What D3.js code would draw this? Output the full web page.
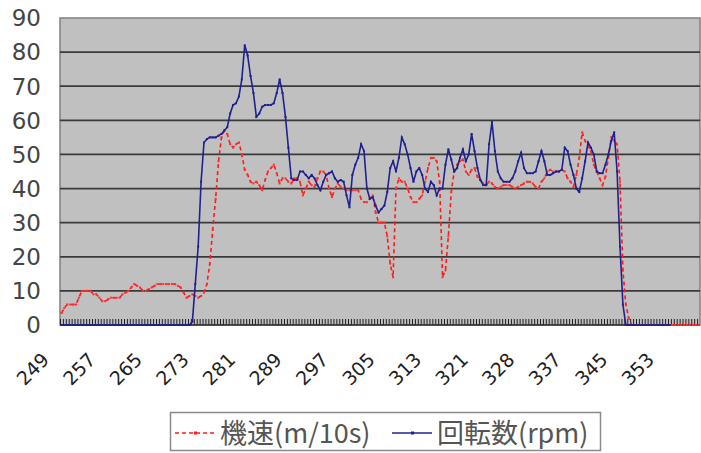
<!DOCTYPE html>
<html>
<head>
<meta charset="utf-8">
<script src="https://cdn.jsdelivr.net/npm/d3@7"></script>
<style>
body { margin: 0; background: #fff; }
svg { display: block; }
</style>
</head>
<body>
<div id="chart"></div>
<script>
// y axis ticks
var yTicks = [0, 10, 20, 30, 40, 50, 60, 70, 80, 90];
// x labels, one label every 16 samples
var xLabels = ["249", "257", "265", "273", "281", "289", "297", "305", "313", "321", "328", "337", "345", "353"];
var labelStep = 16;
var seriesNames = ["機速(m/10s)", "回転数(rpm)"];

// 機速 (m/10s), 220 samples
var speed = [
    3.5, 5, 6, 6, 6, 6, 8, 10, 10, 10,
    10, 9, 9, 8, 7, 7, 7.5, 8, 8, 8,
    8, 9, 9.5, 10, 11, 12, 11.5, 11, 10, 10,
    10.5, 11, 11.5, 12, 12, 12, 12, 12, 12, 12,
    11.5, 11, 9.5, 8, 8.5, 9, 8.5, 8, 8.5, 9.5,
    12, 18, 28, 37, 48, 55, 57, 56, 53, 52,
    53, 53.5, 50, 45.5, 44, 42, 41.5, 42, 41, 39.5,
    42.5, 45, 46, 47, 44.5, 41.5, 43, 43, 42, 41.5,
    43, 43, 42, 38, 40, 42, 41, 40.5, 43, 45,
    45, 44, 40, 37.5, 40, 41.5, 40.5, 40, 39.5, 39.5,
    39.5, 39.5, 39.5, 37, 36, 36, 37, 38, 33, 30,
    30, 30, 26, 18, 14, 40, 43, 42, 42, 40,
    37.5, 36, 36, 37, 38, 42, 46, 49, 49, 48,
    42, 14, 16, 26, 39, 45, 47, 48, 48.5, 45,
    44, 45.5, 46, 43.5, 42.5, 41.5, 41, 42, 41.5, 40.5,
    40, 40.5, 41, 41, 41, 40.5, 40, 40.5, 41, 41.5,
    42, 42, 41.5, 40.5, 40, 42, 43, 45, 45.5, 45,
    45, 45, 45.5, 45, 43, 42, 40.5, 44, 49, 56.5,
    54, 52.5, 51, 47, 45, 43, 41, 43.5, 49, 55,
    54, 53, 42, 16, 6, 2, 0, 0, 0, 0,
    0, 0, 0, 0, 0, 0, 0, 0, 0, 0,
    0, 0, 0, 0, 0, 0, 0, 0, 0, 0
];

// 回転数 (rpm), 210 samples
var rpm = [
    0, 0, 0, 0, 0, 0, 0, 0, 0, 0,
    0, 0, 0, 0, 0, 0, 0, 0, 0, 0,
    0, 0, 0, 0, 0, 0, 0, 0, 0, 0,
    0, 0, 0, 0, 0, 0, 0, 0, 0, 0,
    0, 0, 0, 0, 0, 1, 12, 23, 42, 53.5,
    54.5, 55, 55, 55, 55.5, 56, 57, 58, 62, 64.5,
    65, 67, 72, 82, 79, 73, 68, 61, 62, 64,
    64.5, 64.5, 64.5, 65, 68, 72, 68, 61, 52, 43,
    42.5, 42.5, 45, 45, 44, 43, 44, 43, 41, 39.5,
    42, 44, 44.5, 45, 43, 42, 42.5, 42, 38, 34.5,
    44, 47, 49, 53, 51, 40, 37, 37.5, 35, 33,
    34, 35, 39, 46, 48, 45, 49, 55, 53, 50,
    46, 42, 45, 46, 44, 40, 39, 42, 41, 38,
    40, 40, 47, 51.5, 48.5, 45, 46, 49, 51.5, 48,
    50, 56, 51, 46, 42.5, 41, 41, 53, 59.5, 51,
    45, 43, 42, 42, 42, 43, 45, 48, 50.5, 46,
    44.5, 44.5, 44.5, 45, 48, 51, 48, 44, 44, 44.5,
    45, 45, 45.5, 52, 51, 47, 44, 40, 39, 43,
    48, 53.5, 52, 50, 45, 44.5, 44.5, 47, 50, 54,
    56.5, 45, 23, 6, 0, 0, 0, 0, 0, 0,
    0, 0, 0, 0, 0, 0, 0, 0, 0, 0
];

var W = 701, H = 453;
var plot = { left: 60, top: 18, right: 700, bottom: 325 };

var svg = d3.select("#chart").append("svg")
    .attr("width", W)
    .attr("height", H);

var x = d3.scaleBand()
    .domain(d3.range(speed.length))
    .range([plot.left, plot.right]);
var bw = x.bandwidth();

var y = d3.scaleLinear()
    .domain([0, 90])
    .range([plot.bottom, plot.top]);

// plot area
svg.append("rect")
    .attr("x", plot.left)
    .attr("y", plot.top)
    .attr("width", plot.right - plot.left)
    .attr("height", plot.bottom - plot.top)
    .attr("fill", "#c0c0c0")
    .attr("stroke", "#808080")
    .attr("stroke-width", 1.5);

// grid lines
svg.selectAll(".grid")
    .data(yTicks.filter(d => d > 0 && d < 90))
    .join("line")
    .attr("class", "grid")
    .attr("x1", plot.left)
    .attr("x2", plot.right)
    .attr("y1", d => y(d))
    .attr("y2", d => y(d))
    .attr("stroke", "#3a3a3a")
    .attr("stroke-width", 1.8);

// y labels
svg.selectAll(".ylab")
    .data(yTicks)
    .join("text")
    .attr("class", "ylab")
    .attr("x", 41)
    .attr("y", d => y(d))
    .attr("dy", "0.36em")
    .attr("text-anchor", "end")
    .attr("font-family", "DejaVu Sans")
    .attr("font-size", 23)
    .attr("fill", "#444")
    .text(d => d);

// category axis + tick marks
svg.append("line")
    .attr("x1", plot.left).attr("x2", plot.right)
    .attr("y1", plot.bottom).attr("y2", plot.bottom)
    .attr("stroke", "#000")
    .attr("stroke-width", 1.2);

svg.selectAll(".xtick")
    .data(d3.range(speed.length))
    .join("line")
    .attr("class", "xtick")
    .attr("x1", d => x(d) + 0.5)
    .attr("x2", d => x(d) + 0.5)
    .attr("y1", plot.bottom - 6)
    .attr("y2", plot.bottom)
    .attr("stroke", "#222")
    .attr("stroke-width", 1);

// x labels (rotated)
svg.selectAll(".xlab")
    .data(xLabels)
    .join("text")
    .attr("class", "xlab")
    .attr("transform", function (d, i) {
        var cx = x(i * labelStep) + bw / 2 - 16;
        return "translate(" + cx + ",356) rotate(-45)";
    })
    .attr("dy", "0.36em")
    .attr("text-anchor", "end")
    .attr("font-family", "DejaVu Sans")
    .attr("font-size", 19)
    .attr("fill", "#222")
    .text(d => d);

var line = d3.line()
    .x((d, i) => x(i) + bw / 2)
    .y(d => y(d));

// speed line (red dashed)
svg.append("path")
    .datum(speed)
    .attr("d", line)
    .attr("fill", "none")
    .attr("stroke", "#ff1a1a")
    .attr("stroke-width", 1.6)
    .attr("stroke-dasharray", "4,3");

svg.selectAll(".m1")
    .data(speed)
    .join("rect")
    .attr("class", "m1")
    .attr("x", (d, i) => x(i) + bw / 2 - 1)
    .attr("y", d => y(d) - 1)
    .attr("width", 2)
    .attr("height", 2)
    .attr("fill", "#ff3030");

// rpm line (navy)
svg.append("path")
    .datum(rpm)
    .attr("d", line)
    .attr("fill", "none")
    .attr("stroke", "#202090")
    .attr("stroke-width", 1.6);

svg.selectAll(".m2")
    .data(rpm)
    .join("rect")
    .attr("class", "m2")
    .attr("x", (d, i) => x(i) + bw / 2 - 1)
    .attr("y", d => y(d) - 1)
    .attr("width", 2)
    .attr("height", 2)
    .attr("fill", "#202090");

// legend
var lg = svg.append("g");
lg.append("rect")
    .attr("x", 170.5).attr("y", 412.5)
    .attr("width", 430).attr("height", 38)
    .attr("fill", "#fff")
    .attr("stroke", "#8a8a8a")
    .attr("stroke-width", 1.5);

var legendItems = [
    { name: seriesNames[0], x: 175, color: "#ff1a1a", dash: "4,3" },
    { name: seriesNames[1], x: 392, color: "#202090", dash: null }
];
legendItems.forEach(function (it) {
    lg.append("line")
        .attr("x1", it.x).attr("x2", it.x + 40)
        .attr("y1", 433).attr("y2", 433)
        .attr("stroke", it.color)
        .attr("stroke-width", 1.6)
        .attr("stroke-dasharray", it.dash);
    lg.append("rect")
        .attr("x", it.x + 19).attr("y", 431.5)
        .attr("width", 3).attr("height", 3)
        .attr("fill", it.color);
    lg.append("text")
        .attr("x", it.x + 45)
        .attr("y", 433)
        .attr("dy", "0.36em")
        .attr("font-family", "Noto Sans CJK JP")
        .attr("font-size", 27)
        .attr("fill", "#555")
        .text(it.name);
});
</script>
</body>
</html>
